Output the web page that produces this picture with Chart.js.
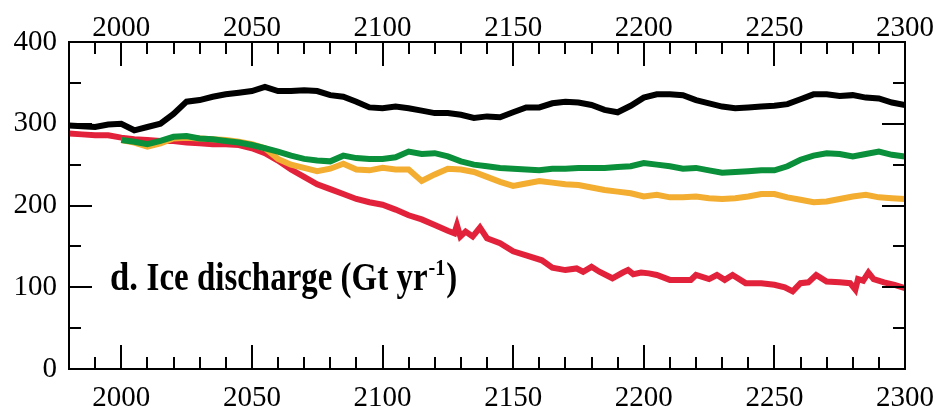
<!DOCTYPE html>
<html>
<head>
<meta charset="utf-8">
<script src="https://cdn.jsdelivr.net/npm/chart.js@4.4.1/dist/chart.umd.min.js"></script>
<style>
  html, body { margin: 0; padding: 0; background: #fff; }
  #wrap { width: 938px; height: 412px; }
</style>
</head>
<body>
<div id="wrap"><canvas id="ice-chart" width="938" height="412"></canvas></div>
<script>
// 5-year grid shared by the black, green and orange runs
const years = [1980, 1985, 1990, 1995, 2000, 2005, 2010, 2015, 2020, 2025, 2030, 2035, 2040, 2045, 2050, 2055,
  2060, 2065, 2070, 2075, 2080, 2085, 2090, 2095, 2100, 2105, 2110, 2115, 2120, 2125, 2130, 2135,
  2140, 2145, 2150, 2155, 2160, 2165, 2170, 2175, 2180, 2185, 2190, 2195, 2200, 2205, 2210, 2215,
  2220, 2225, 2230, 2235, 2240, 2245, 2250, 2255, 2260, 2265, 2270, 2275, 2280, 2285, 2290, 2295, 2300];

const blackValues = [298, 297, 296, 299, 300, 292, 296, 300, 312, 327, 329, 333, 336, 338, 340, 345,
  340, 340, 341, 340, 335, 333, 327, 320, 319, 321, 319, 316, 313, 313, 311, 307,
  309, 308, 314, 320, 320, 325, 327, 326, 323, 317, 314, 322, 332, 336, 336, 335,
  329, 325, 321, 319, 320, 321, 322, 324, 330, 336, 336, 334, 335, 332, 331, 326, 323];

const greenValues = [null, null, null, null, 280, 278, 275, 279, 284, 285, 282, 281, 279, 277, 274, 270,
  266, 261, 257, 255, 254, 261, 258, 257, 257, 259, 266, 263, 264, 260, 254, 250,
  248, 246, 245, 244, 243, 245, 245, 246, 246, 246, 247, 248, 252, 250, 248, 245,
  246, 243, 240, 241, 242, 243, 243, 248, 256, 261, 264, 263, 260, 263, 266, 262, 260];

const orangeValues = [null, null, null, null, 280, 277, 272, 276, 282, 283, 282, 281, 280, 278, 275, 270,
  257, 250, 246, 242, 245, 251, 244, 243, 246, 244, 244, 230, 238, 245, 244, 241,
  235, 229, 224, 227, 230, 228, 226, 225, 222, 219, 217, 215, 211, 213, 210, 210,
  211, 209, 208, 209, 211, 214, 214, 210, 207, 204, 205, 208, 211, 213, 210, 209, 208];

// the red run is spikier, so it keeps its own years
const redYears = [1980, 1985, 1990, 1995, 2000, 2005, 2010, 2015, 2020, 2025, 2030, 2035, 2040, 2045, 2050, 2055,
  2060, 2065, 2070, 2075, 2080, 2085, 2090, 2095, 2100, 2105, 2110, 2115, 2120, 2125, 2127.5, 2128.5,
  2129.8, 2131.8, 2134.5, 2137.3, 2140, 2145, 2150, 2155, 2161, 2165, 2170, 2174.3, 2176.8, 2180, 2183, 2188,
  2192, 2194, 2196, 2199, 2202, 2205, 2210, 2215, 2218, 2220, 2225, 2228, 2231, 2234, 2239, 2245,
  2250, 2254, 2257, 2260, 2263, 2266, 2270, 2275, 2279, 2281, 2282, 2284, 2286, 2288, 2292, 2296, 2300];

const redValues = [288, 287, 286, 286, 283, 281, 280, 279, 279, 277, 276, 275, 275, 274, 270, 264,
  255, 244, 235, 226, 220, 214, 208, 204, 201, 195, 188, 183, 176, 169, 166, 176,
  162, 168, 162, 173, 160, 154, 144, 139, 133, 124, 121, 123, 119, 125, 119, 111,
  118, 121, 116, 118, 117, 115, 109, 109, 109, 115, 110, 115, 109, 115, 105, 105,
  103, 100, 95, 105, 106, 115, 107, 106, 105, 97, 110, 108, 118, 110, 106, 103, 99];

const xTickLabels = [2000, 2050, 2100, 2150, 2200, 2250, 2300];
const yTickLabels = [0, 100, 200, 300, 400];
const panelLabel = "d.";
const panelTitle = "Ice discharge (Gt yr";

function toPoints(xs, ys) {
  return xs.map((x, i) => ({ x: x, y: ys[i] }));
}

const serif = "'Liberation Serif', 'Times New Roman', serif";

// frame, inward ticks and panel title
const framePlugin = {
  id: "frame",
  afterDatasetsDraw(chart) {
    const ctx = chart.ctx;
    const area = chart.chartArea;
    const x = chart.scales.x;
    const y = chart.scales.y;
    ctx.save();
    ctx.strokeStyle = "#000";
    ctx.lineWidth = 2;
    ctx.strokeRect(area.left, area.top, area.right - area.left, area.bottom - area.top);

    ctx.beginPath();
    x.ticks.forEach(t => {
      const px = Math.round(x.getPixelForValue(t.value));
      const len = t.value % 50 === 0 ? 24 : 12;
      ctx.moveTo(px, area.bottom);
      ctx.lineTo(px, area.bottom - len);
      ctx.moveTo(px, area.top);
      ctx.lineTo(px, area.top + len);
    });
    y.ticks.forEach(t => {
      const py = Math.round(y.getPixelForValue(t.value));
      const len = t.value % 100 === 0 ? 23 : 12;
      ctx.moveTo(area.left, py);
      ctx.lineTo(area.left + len, py);
      ctx.moveTo(area.right, py);
      ctx.lineTo(area.right - len, py);
    });
    ctx.stroke();

    // panel title, slightly condensed like the original
    ctx.fillStyle = "#000";
    ctx.textBaseline = "alphabetic";
    ctx.translate(110, 290);
    ctx.scale(0.845, 1);
    ctx.font = "bold 41px " + serif;
    ctx.fillText(panelLabel, 0, 0);
    let w = ctx.measureText(panelLabel + " ").width;
    ctx.font = "bold 39px " + serif;
    ctx.fillText(panelTitle, w, 0);
    w += ctx.measureText(panelTitle).width;
    ctx.font = "bold 24px " + serif;
    ctx.fillText("-1", w + 1, -15);
    w += ctx.measureText("-1").width + 2;
    ctx.font = "bold 39px " + serif;
    ctx.fillText(")", w, 0);
    ctx.restore();
  }
};

function lineSet(data, color) {
  return {
    data: data,
    borderColor: color,
    backgroundColor: color,
    borderWidth: 6,
    pointRadius: 0,
    tension: 0,
    fill: false,
    spanGaps: false
  };
}

const xTicks = {
  stepSize: 10,
  autoSkip: false,
  maxRotation: 0,
  color: "#000",
  font: { family: serif, size: 29 },
  callback: v => (xTickLabels.includes(v) ? String(v) : "")
};

// keep the plot area fixed: no extra room for edge labels
function fixHeight(h) {
  return s => {
    s.height = h;
    s.paddingLeft = 0;
    s.paddingRight = 0;
  };
}

new Chart(document.getElementById("ice-chart"), {
  type: "line",
  data: {
    datasets: [
      lineSet(toPoints(years, blackValues), "#000000"),
      lineSet(toPoints(years, greenValues), "#0a8f3a"),
      lineSet(toPoints(years, orangeValues), "#f3ad31"),
      lineSet(toPoints(redYears, redValues), "#e2223a")
    ]
  },
  options: {
    responsive: false,
    animation: false,
    devicePixelRatio: 1,
    layout: { padding: 0 },
    plugins: { legend: { display: false }, tooltip: { enabled: false } },
    scales: {
      x: {
        type: "linear",
        position: "bottom",
        min: 1980,
        max: 2300,
        grid: { display: false, drawTicks: false },
        border: { display: false },
        ticks: Object.assign({}, xTicks, { padding: 12 }),
        afterFit: fixHeight(43)
      },
      x2: {
        type: "linear",
        position: "top",
        min: 1980,
        max: 2300,
        grid: { display: false, drawTicks: false },
        border: { display: false },
        ticks: Object.assign({}, xTicks, { padding: -4 }),
        afterFit: fixHeight(42)
      },
      y: {
        position: "left",
        min: 0,
        max: 400,
        grid: { display: false, drawTicks: false },
        border: { display: false },
        ticks: {
          stepSize: 50,
          color: "#000",
          padding: 12,
          font: { family: serif, size: 29 },
          callback: v => (yTickLabels.includes(v) ? String(v) : "")
        },
        afterFit: s => { s.width = 69; s.paddingTop = 0; s.paddingBottom = 0; }
      },
      y2: {
        position: "right",
        min: 0,
        max: 400,
        grid: { display: false, drawTicks: false },
        border: { display: false },
        ticks: { display: false },
        afterFit: s => { s.width = 33; }
      }
    }
  },
  plugins: [framePlugin]
});
</script>
</body>
</html>
